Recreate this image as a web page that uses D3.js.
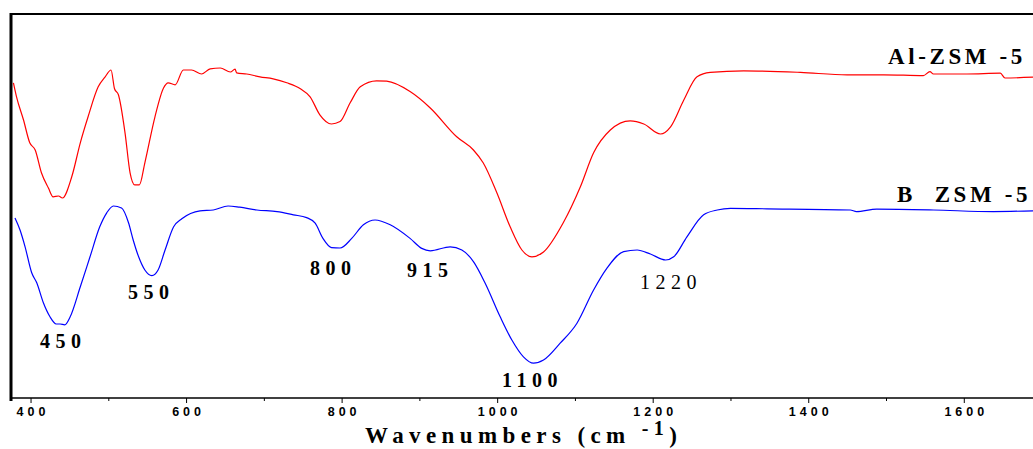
<!DOCTYPE html>
<html>
<head>
<meta charset="utf-8">
<script src="https://cdn.jsdelivr.net/npm/d3@7"></script>
<style>
  html, body { margin: 0; padding: 0; background: #fff; }
  svg { display: block; }
</style>
</head>
<body>
<svg id="chart" width="1033" height="449"></svg>
<script>
// Wavenumbers (cm-1) and transmittance (a.u.) for Al-ZSM-5 (red)
const alWave = [378,382,391,399,406,414,423,429,436,441,453,464,474,487,496,503.5,508,513,521.5,528,534,540,547,560,571,577,586,596.5,607,620,631,644,657,663,665,678,695,712,729.5,747,759.5,772,787,798,811,824,845,858,888,914,948,969.5,982,999.6,1016.7,1031.8,1044.7,1059.6,1085,1107,1124,1145.5,1171,1188.6,1210,1223,1240,1257,1274,1317,1390,1450,1497,1548,1556.5,1561,1604,1647,1653,1689];
const alValues = [78.8,75.3,69.5,63.8,62.0,56.3,52.5,50.3,50.5,50.0,55.3,63.8,70.3,77.8,80.3,82.0,77.3,75.8,66.3,56.3,53.3,53.3,58.8,70.3,77.5,78.8,78.3,82.0,82.0,81.0,82.3,82.5,81.5,82.2,81.3,81.0,80.3,79.8,78.8,77.3,75.3,70.8,68.5,69.1,73.8,77.8,79.3,79.2,76.6,72.5,65.3,62.0,58.8,51.3,42.8,37.0,35.3,36.5,43.8,52.8,61.3,67.0,69.3,68.5,66.0,67.8,74.5,80.3,81.4,81.8,81.4,80.8,80.8,80.6,81.6,81.0,81.0,81.2,80.0,80.2];

// Wavenumbers and transmittance for B ZSM-5 (blue)
const bWave = [380,386.5,393,401.5,408,416.5,425,433,438,444,451,464,476.5,489,498,506.5,517,526,532,539,547,556,564,573,584,594.5,618,635,654,669,691,717,738,755,766,776,787,798,813,828,843,862.5,888,903,914,939.6,954.6,969.5,984.6,1003.9,1018.9,1033.8,1046.7,1059.6,1081,1102.6,1124,1141,1162.6,1180,1197,1216.6,1227,1244,1265.5,1283,1300,1347,1454,1462,1488,1561,1638,1689];
const bValues = [45.0,42.0,37.8,31.3,28.8,23.8,20.3,18.5,18.5,18.3,20.3,27.8,35.3,42.8,46.3,48.0,47.5,43.8,39.5,35.3,32.0,30.6,32.0,37.0,42.8,44.8,46.8,47.0,48.0,47.7,47.0,46.6,45.8,45.1,43.7,39.9,37.6,37.5,39.9,43.3,44.5,43.3,39.9,37.4,36.8,37.8,37.0,34.1,28.7,20.3,14.5,10.3,8.7,9.5,13.7,18.7,27.0,32.4,36.6,37.0,36.0,34.5,35.3,40.3,45.8,47.0,47.4,47.3,47.0,46.6,47.2,47.0,46.6,46.8];

const majorTicks = [400,600,800,1000,1200,1400,1600];
const minorTicks = [500,700,900,1100,1300,1500];
const xDomain = [373.6, 1689];
const yDomain = [0, 96];

const seriesNames = ["Al-ZSM -5", "B  ZSM -5"];
const peakLabels = ["450","550","800","915","1100","1220"];

(function () {
const svg = d3.select("#chart");
const mLeft = 10, mRight = 1033, mTop = 14, mBottom = 398;

const x = d3.scaleLinear().domain(xDomain).range([mLeft, mRight]);
const y = d3.scaleLinear().domain(yDomain).range([mBottom, mTop]);

svg.append("clipPath").attr("id","clip")
  .append("rect").attr("x", mLeft+1).attr("y", mTop).attr("width", mRight-mLeft).attr("height", mBottom-mTop);

const line = d3.line().x(d => x(d[0])).y(d => y(d[1])).curve(d3.curveMonotoneX);

const alData = alWave.map((w,i) => [w, alValues[i]]);
const bData = bWave.map((w,i) => [w, bValues[i]]);

const g = svg.append("g").attr("clip-path","url(#clip)");
g.append("path").datum(alData).attr("d", line).attr("fill","none").attr("stroke","#ff0000").attr("stroke-width",1.2);
g.append("path").datum(bData).attr("d", line).attr("fill","none").attr("stroke","#0000ff").attr("stroke-width",1.2);

// Frame: top and left
svg.append("line").attr("x1", mLeft).attr("x2", mRight).attr("y1", mTop).attr("y2", mTop)
  .attr("stroke","#000").attr("stroke-width",2);
svg.append("line").attr("x1", mLeft+1).attr("x2", mLeft+1).attr("y1", mTop-1).attr("y2", mBottom+3)
  .attr("stroke","#000").attr("stroke-width",3);

// X axis
const xAxis = d3.axisBottom(x).tickValues(majorTicks).tickSize(5).tickFormat(d3.format("d"));
const ax = svg.append("g").attr("transform", `translate(0,${mBottom})`).call(xAxis);
ax.select(".domain").attr("stroke","#000").attr("stroke-width",1.5).attr("d", `M${mLeft},0H${mRight}`);
ax.selectAll(".tick line").attr("stroke","#000").attr("stroke-width",1);
ax.selectAll(".tick text")
  .attr("font-family","'Liberation Sans', Arial, sans-serif")
  .attr("font-weight","bold").attr("font-size", "12.5px")
  .attr("letter-spacing","4px").attr("fill","#000")
  .attr("y", 9).attr("dy","0.71em").attr("dx","2px");
const minorAxis = d3.axisBottom(x).tickValues(minorTicks).tickSize(3).tickFormat("");
const mx = svg.append("g").attr("transform", `translate(0,${mBottom})`).call(minorAxis);
mx.select(".domain").remove();
mx.selectAll(".tick line").attr("stroke","#000").attr("stroke-width",1);

// Axis title
const serif = "'Liberation Serif', 'Times New Roman', serif";
const title = svg.append("text").attr("x", 365).attr("y", 443)
  .attr("font-family", serif)
  .attr("font-weight","bold").attr("font-size","23px").attr("letter-spacing","5.4px").attr("fill","#000");
title.append("tspan").text("Wavenumbers (cm ");
title.append("tspan").attr("dy", -8).attr("font-size","20px").text("-1");
title.append("tspan").attr("dy", 8).text(")");

// Series labels
svg.append("text").attr("x", 888).attr("y", 64).attr("font-family", serif).attr("font-weight","bold")
  .attr("font-size","23px").attr("letter-spacing","3.6px").attr("fill","#000").text(seriesNames[0]);
svg.append("text").attr("x", 897).attr("y", 202).attr("font-family", serif).attr("font-weight","bold")
  .attr("font-size","23px").attr("letter-spacing","3.6px").attr("fill","#000").attr("style","white-space:pre").text(seriesNames[1]);

// Peak annotations
const annPos = [[40,348,"bold"],[128,299,"bold"],[310,275,"bold"],[407,277,"bold"],[502,387,"bold"],[640,289,"normal"]];
peakLabels.forEach((t,i) => {
  svg.append("text").attr("x", annPos[i][0]).attr("y", annPos[i][1])
    .attr("font-family", serif).attr("font-weight", annPos[i][2]).attr("font-size","20px")
    .attr("letter-spacing", "5.5px").attr("fill","#000").text(t);
});
})();
</script>
</body>
</html>
